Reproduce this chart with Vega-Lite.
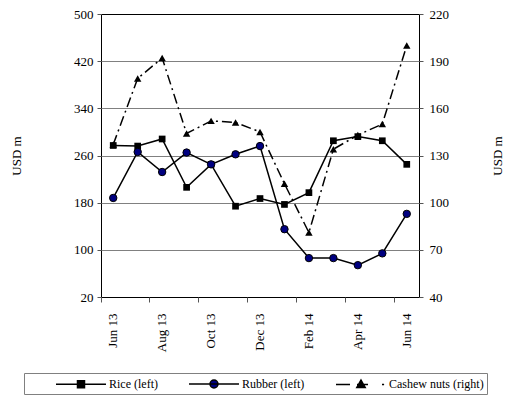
{
  "$schema": "https://vega.github.io/schema/vega-lite/v6.json",
  "width": 318,
  "height": 283,
  "autosize": "none",
  "padding": {"left": 101, "top": 14, "right": 92, "bottom": 112},
  "background": "white",
  "config": {
    "font": "Liberation Serif",
    "view": {"stroke": "black", "strokeWidth": 1},
    "axis": {
      "labelFont": "Liberation Serif",
      "labelFontSize": 13,
      "labelColor": "black",
      "titleFont": "Liberation Serif",
      "titleFontSize": 13,
      "titleFontWeight": "normal",
      "titleColor": "black",
      "tickColor": "#555",
      "domain": false
    },
    "legend": {
      "labelFont": "Liberation Serif",
      "labelFontSize": 12,
      "labelColor": "black"
    }
  },
  "data": {
    "values": [
      {"month": "Jun 13", "series": "Rice (left)", "value": 277},
      {"month": "Jul 13", "series": "Rice (left)", "value": 276},
      {"month": "Aug 13", "series": "Rice (left)", "value": 288},
      {"month": "Sep 13", "series": "Rice (left)", "value": 206},
      {"month": "Oct 13", "series": "Rice (left)", "value": 245},
      {"month": "Nov 13", "series": "Rice (left)", "value": 174},
      {"month": "Dec 13", "series": "Rice (left)", "value": 187},
      {"month": "Jan 14", "series": "Rice (left)", "value": 177},
      {"month": "Feb 14", "series": "Rice (left)", "value": 197},
      {"month": "Mar 14", "series": "Rice (left)", "value": 285},
      {"month": "Apr 14", "series": "Rice (left)", "value": 292},
      {"month": "May 14", "series": "Rice (left)", "value": 285},
      {"month": "Jun 14", "series": "Rice (left)", "value": 245},
      {"month": "Jun 13", "series": "Rubber (left)", "value": 188},
      {"month": "Jul 13", "series": "Rubber (left)", "value": 266},
      {"month": "Aug 13", "series": "Rubber (left)", "value": 232},
      {"month": "Sep 13", "series": "Rubber (left)", "value": 265},
      {"month": "Oct 13", "series": "Rubber (left)", "value": 245},
      {"month": "Nov 13", "series": "Rubber (left)", "value": 262},
      {"month": "Dec 13", "series": "Rubber (left)", "value": 276},
      {"month": "Jan 14", "series": "Rubber (left)", "value": 135},
      {"month": "Feb 14", "series": "Rubber (left)", "value": 86},
      {"month": "Mar 14", "series": "Rubber (left)", "value": 86},
      {"month": "Apr 14", "series": "Rubber (left)", "value": 74},
      {"month": "May 14", "series": "Rubber (left)", "value": 94},
      {"month": "Jun 14", "series": "Rubber (left)", "value": 161},
      {"month": "Jun 13", "series": "Cashew nuts (right)", "value": 137},
      {"month": "Jul 13", "series": "Cashew nuts (right)", "value": 179},
      {"month": "Aug 13", "series": "Cashew nuts (right)", "value": 192},
      {"month": "Sep 13", "series": "Cashew nuts (right)", "value": 144},
      {"month": "Oct 13", "series": "Cashew nuts (right)", "value": 152},
      {"month": "Nov 13", "series": "Cashew nuts (right)", "value": 151},
      {"month": "Dec 13", "series": "Cashew nuts (right)", "value": 145},
      {"month": "Jan 14", "series": "Cashew nuts (right)", "value": 112},
      {"month": "Feb 14", "series": "Cashew nuts (right)", "value": 81},
      {"month": "Mar 14", "series": "Cashew nuts (right)", "value": 134},
      {"month": "Apr 14", "series": "Cashew nuts (right)", "value": 143},
      {"month": "May 14", "series": "Cashew nuts (right)", "value": 150},
      {"month": "Jun 14", "series": "Cashew nuts (right)", "value": 200}
    ]
  },
  "encoding": {
    "x": {
      "field": "month",
      "type": "ordinal",
      "title": null,
      "scale": {
        "type": "band",
        "paddingInner": 0,
        "paddingOuter": 0,
        "domain": ["Jun 13", "Jul 13", "Aug 13", "Sep 13", "Oct 13", "Nov 13", "Dec 13", "Jan 14", "Feb 14", "Mar 14", "Apr 14", "May 14", "Jun 14"]
      },
      "axis": {
        "values": ["Jun 13", "Aug 13", "Oct 13", "Dec 13", "Feb 14", "Apr 14", "Jun 14"],
        "bandPosition": 0,
        "labelAngle": -90,
        "tickSize": 5,
        "labelPadding": 11,
        "grid": false
      }
    }
  },
  "layer": [
    {
      "transform": [{"filter": "datum.series !== 'Cashew nuts (right)'"}],
      "encoding": {
        "y": {
          "field": "value",
          "type": "quantitative",
          "scale": {"domain": [20, 500], "nice": false, "zero": false},
          "axis": {
            "title": "USD m",
            "values": [20, 100, 180, 260, 340, 420, 500],
            "grid": true,
            "gridColor": {"condition": {"test": "datum.value === 20 || datum.value === 500", "value": "transparent"}, "value": "#808080"},
            "tickSize": 4,
            "labelPadding": 4,
            "titlePadding": 50
          }
        }
      },
      "layer": [
        {
          "mark": {"type": "line", "strokeWidth": 1.5},
          "encoding": {
            "detail": {"field": "series"},
            "color": {
              "field": "series",
              "type": "nominal",
              "scale": {"domain": ["Rice (left)", "Rubber (left)", "Cashew nuts (right)"], "range": ["black", "black", "black"]},
              "legend": {
                "orient": "none",
                "legendX": -77,
                "legendY": 359,
                "direction": "horizontal",
                "columns": 3,
                "title": null,
                "padding": 3,
                "strokeColor": "#808080",
                "fillColor": "white",
                "symbolSize": 196,
                "columnPadding": 2,
                "labelOffset": 20,
                "symbolOffset": 46,
                "encode": {
                  "symbols": {
                    "update": {
                      "shape": {"signal": "datum.value === 'Rice (left)' ? 'M-3.57,0H3.57M-0.5,-0.5H0.5V0.5H-0.5Z' : datum.value === 'Rubber (left)' ? 'M-3.57,0H3.57M-0.57,0A0.57,0.57,0,1,0,0.57,0A0.57,0.57,0,1,0,-0.57,0Z' : 'M-3.57,0H-1.57M-0.57,0H1M3,0H3.3M0,-0.64L0.6,0.43L-0.6,0.43Z'"},
                      "fill": {"signal": "datum.value === 'Rubber (left)' ? '#000080' : 'black'"},
                      "stroke": {"value": "black"},
                      "strokeWidth": {"value": 1.5},
                      "strokeDash": {"value": []},
                      "opacity": {"value": 1}
                    }
                  }
                }
              }
            }
          }
        },
        {
          "transform": [{"filter": "datum.series === 'Rice (left)'"}],
          "mark": {"type": "point", "shape": "square", "filled": true, "size": 45, "color": "black", "opacity": 1}
        },
        {
          "transform": [{"filter": "datum.series === 'Rubber (left)'"}],
          "mark": {"type": "point", "shape": "circle", "filled": true, "size": 55, "fill": "#000080", "stroke": "black", "strokeWidth": 1, "opacity": 1}
        }
      ]
    },
    {
      "transform": [{"filter": "datum.series === 'Cashew nuts (right)'"}],
      "encoding": {
        "y": {
          "field": "value",
          "type": "quantitative",
          "scale": {"domain": [40, 220], "nice": false, "zero": false},
          "axis": {
            "title": "USD m",
            "orient": "right",
            "values": [40, 70, 100, 130, 160, 190, 220],
            "grid": false,
            "tickSize": 4,
            "labelPadding": 6,
            "titleAngle": 270,
            "titlePadding": 56
          }
        }
      },
      "layer": [
        {
          "mark": {"type": "line", "strokeWidth": 1.5, "strokeDash": [10, 4, 2, 4]},
          "encoding": {
            "color": {"field": "series", "type": "nominal"}
          }
        },
        {
          "mark": {"type": "point", "shape": "triangle-up", "filled": true, "size": 55, "color": "black", "opacity": 1}
        }
      ]
    }
  ],
  "resolve": {"scale": {"y": "independent"}}
}
